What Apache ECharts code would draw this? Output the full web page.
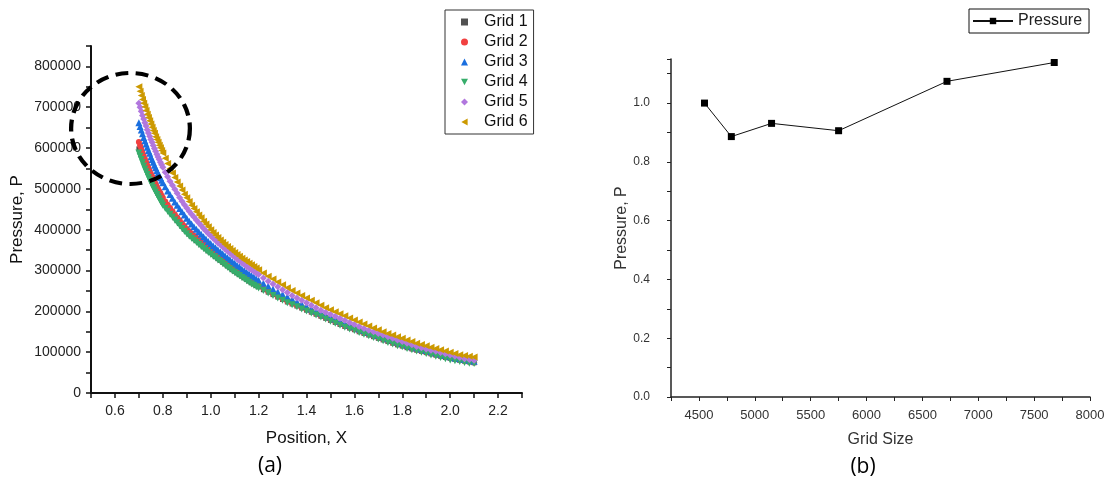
<!DOCTYPE html>
<html><head><meta charset="utf-8">
<script src="https://cdn.jsdelivr.net/npm/echarts@6/dist/echarts.min.js"></script>
<style>html,body{margin:0;padding:0;background:#fff}#c{width:1110px;height:481px}</style>
</head><body><div id="c"></div>
<script>
// ---- (a) Pressure vs position for six grids ----
const posX = [0.700,0.705,0.710,0.715,0.720,0.725,0.730,0.735,0.740,0.745,0.750,0.755,0.760,0.765,0.770,0.775,0.780,0.785,0.790,0.795,
  0.80,0.81,0.82,0.83,0.84,0.85,0.86,0.87,0.88,0.89,0.90,0.91,0.92,0.93,0.94,0.95,0.96,0.97,0.98,0.99,1.00,1.01,1.02,1.03,1.04,1.05,1.06,1.07,1.08,1.09,1.10,1.11,1.12,1.13,1.14,1.15,1.16,1.17,1.18,1.19,1.20,
  1.22,1.24,1.26,1.28,1.30,1.32,1.34,1.36,1.38,1.40,1.42,1.44,1.46,1.48,1.50,1.52,1.54,1.56,1.58,1.60,1.62,1.64,1.66,1.68,1.70,1.72,1.74,1.76,1.78,1.80,1.82,1.84,1.86,1.88,1.90,1.92,1.94,1.96,1.98,2.00,2.02,2.04,2.06,2.08,2.10];
const grid1 = [598000,590000,582000,574000,566000,559000,552000,545000,538000,531000,525000,518000,512000,506000,500000,495000,489000,484000,478000,473000,
  468000,460000,452000,444000,437000,429000,422000,415000,408000,401000,395000,389000,384000,378000,373000,368000,363000,358000,353000,348000,344000,339000,334000,329000,325000,320000,316000,311000,307000,302000,298000,294000,290000,286000,282000,278000,274000,270000,267000,263000,260000,
  253000,247000,241000,235000,229000,223000,218000,213000,208000,203000,198000,193000,188000,183000,178000,173000,168000,163000,159000,155000,150000,146000,142000,138000,134000,130000,126000,122000,118000,115000,111000,108000,105000,102000,99000,96000,93000,90000,87000,85000,82000,80000,78000,76000,74000];
const grid2 = [615000,606000,598000,589000,581000,573000,566000,558000,551000,544000,537000,531000,524000,518000,512000,506000,500000,494000,489000,483000,
  478000,469000,461000,453000,445000,437000,430000,423000,416000,409000,402000,396000,391000,385000,380000,375000,370000,365000,360000,355000,350000,345000,340000,335000,330000,325000,320000,315000,311000,306000,302000,298000,294000,290000,286000,282000,278000,274000,270000,266000,263000,
  256000,249000,243000,237000,231000,225000,220000,215000,210000,205000,200000,195000,190000,185000,180000,175000,170000,165000,161000,157000,152000,148000,144000,140000,136000,132000,128000,124000,120000,117000,113000,109000,106000,103000,100000,97000,94000,91000,88000,86000,83000,81000,79000,77000,75000];
const grid3 = [662000,653000,644000,635000,626000,618000,610000,602000,594000,587000,579000,572000,565000,558000,552000,545000,539000,533000,527000,521000,
  515000,505000,495000,486000,477000,468000,460000,452000,444000,436000,428000,421000,414000,407000,401000,395000,389000,383000,377000,371000,366000,361000,356000,351000,346000,341000,336000,331000,327000,322000,318000,313000,309000,304000,300000,296000,292000,288000,284000,280000,276000,
  269000,262000,255000,248000,242000,236000,230000,224000,218000,212000,206000,201000,196000,191000,186000,181000,176000,171000,166000,162000,157000,153000,149000,145000,141000,137000,133000,129000,125000,121000,117000,113000,110000,107000,104000,101000,98000,95000,92000,89000,86000,84000,82000,80000,78000];
const grid4 = [588000,580000,572000,564000,556000,549000,542000,535000,528000,522000,515000,509000,503000,497000,492000,486000,481000,476000,470000,465000,
  460000,452000,445000,438000,431000,424000,417000,410000,403000,396000,390000,384000,379000,374000,369000,364000,359000,354000,349000,344000,340000,335000,331000,326000,322000,317000,313000,308000,304000,299000,295000,291000,287000,283000,279000,275000,271000,267000,264000,260000,257000,
  251000,245000,239000,233000,227000,221000,216000,211000,206000,201000,196000,191000,186000,181000,176000,171000,166000,161000,157000,153000,148000,144000,140000,136000,132000,128000,124000,120000,116000,113000,109000,106000,103000,100000,97000,93000,90000,87000,84000,81000,79000,77000,75000,73000,72000];
const grid5 = [710000,700000,690000,680000,671000,662000,654000,645000,637000,629000,621000,614000,606000,599000,592000,585000,578000,572000,565000,559000,
  553000,541000,530000,519000,509000,499000,489000,479000,470000,461000,453000,445000,438000,431000,424000,417000,410000,403000,397000,391000,385000,379000,374000,368000,363000,358000,353000,348000,343000,338000,333000,328000,324000,319000,315000,310000,306000,302000,298000,294000,290000,
  282000,274000,267000,260000,253000,246000,239000,233000,227000,221000,215000,209000,203000,198000,193000,188000,183000,178000,173000,168000,163000,158000,154000,150000,146000,142000,138000,134000,130000,126000,122000,118000,114000,111000,108000,105000,102000,99000,96000,93000,90000,87000,84000,82000,80000];
const grid6 = [750000,739000,729000,719000,710000,701000,692000,683000,675000,667000,659000,651000,643000,636000,628000,621000,614000,607000,601000,594000,
  588000,575000,562000,550000,539000,528000,517000,507000,497000,487000,478000,469000,460000,452000,444000,436000,429000,421000,414000,407000,400000,393000,387000,381000,375000,369000,364000,359000,354000,349000,344000,339000,335000,330000,326000,322000,318000,314000,310000,306000,302000,
  294000,286000,279000,272000,265000,258000,251000,245000,239000,233000,227000,221000,215000,209000,204000,199000,194000,189000,184000,179000,174000,169000,164000,159000,155000,150000,146000,142000,138000,134000,130000,126000,122000,119000,116000,112000,109000,106000,103000,100000,97000,94000,92000,90000,88000];
const gridNames = ['Grid 1','Grid 2','Grid 3','Grid 4','Grid 5','Grid 6'];

// ---- (b) Pressure vs grid size ----
const gridSize = [4550, 4790, 5150, 5750, 6720, 7680];
const pressure = [1.0, 0.886, 0.931, 0.906, 1.074, 1.138];

const FONT = 'Arial, "Liberation Sans", sans-serif';
const isMult = (v, step) => Math.abs(v / step - Math.round(v / step)) < 1e-6;
const zip = (xs, ys) => xs.map((x, i) => [x, ys[i]]);

const styles = [
  {color:'#515151', symbol:'rect', size:5, rot:0, icon:'rect'},
  {color:'#F14040', symbol:'circle', size:6, rot:0, icon:'circle'},
  {color:'#1A6FDF', symbol:'triangle', size:7, rot:0, icon:'triangle'},
  {color:'#37AD6B', symbol:'triangle', size:7, rot:180, icon:'path://M0,0L10,0L5,9Z'},
  {color:'#B177DE', symbol:'diamond', size:7, rot:0, icon:'diamond'},
  {color:'#CC9900', symbol:'triangle', size:7, rot:90, icon:'path://M9,0L9,10L0,5Z'}
];
const leftData = [grid1, grid2, grid3, grid4, grid5, grid6];

const leftSeries = leftData.map((arr, i) => ({
  name: gridNames[i], type: 'scatter', xAxisIndex: 0, yAxisIndex: 0,
  data: zip(posX, arr), symbol: styles[i].symbol, symbolSize: styles[i].size,
  symbolRotate: styles[i].rot, itemStyle: {color: styles[i].color, opacity: 1},
  emphasis: {disabled: true}, animation: false
}));

const chart = echarts.init(document.getElementById('c'), null, {renderer: 'canvas'});
chart.setOption({
  animation: false,
  backgroundColor: '#fff',
  grid: [
    {left: 91, top: 46, width: 431, height: 347, outerBoundsMode: 'none', containLabel: false},
    {left: 671, top: 59, width: 419, height: 338, outerBoundsMode: 'none', containLabel: false}
  ],
  xAxis: [
    {type: 'value', gridIndex: 0, min: 0.5, max: 2.3, interval: 0.1,
     axisLine: {lineStyle: {color: '#111', width: 2}},
     axisTick: {length: 5, lineStyle: {color: '#111', width: 1.5}},
     splitLine: {show: false},
     axisLabel: {margin: 11, fontFamily: FONT, fontSize: 14, color: '#222',
       formatter: v => isMult(v, 0.2) ? v.toFixed(1) : ''},
     name: 'Position, X', nameLocation: 'middle', nameGap: 37,
     nameTextStyle: {fontFamily: FONT, fontSize: 17, color: '#111'}},
    {type: 'value', gridIndex: 1, min: 4250, max: 8000, interval: 250,
     axisLine: {lineStyle: {color: '#222', width: 1.5}},
     axisTick: {length: 4, lineStyle: {color: '#222', width: 1}},
     splitLine: {show: false},
     axisLabel: {margin: 12, fontFamily: FONT, fontSize: 13, color: '#333',
       formatter: v => isMult(v, 500) ? String(Math.round(v)) : ''},
     name: 'Grid Size', nameLocation: 'middle', nameGap: 35,
     nameTextStyle: {fontFamily: FONT, fontSize: 16, color: '#333'}}
  ],
  yAxis: [
    {type: 'value', gridIndex: 0, min: 0, max: 850000, interval: 50000,
     axisLine: {show: true, lineStyle: {color: '#111', width: 2}},
     axisTick: {show: true, length: 5, lineStyle: {color: '#111', width: 1.5}},
     splitLine: {show: false},
     axisLabel: {margin: 10, fontFamily: FONT, fontSize: 14, color: '#222',
       formatter: v => isMult(v, 100000) ? String(Math.round(v)) : ''},
     name: 'Pressure, P', nameLocation: 'middle', nameGap: 65,
     nameTextStyle: {fontFamily: FONT, fontSize: 17, color: '#111'}},
    {type: 'value', gridIndex: 1, min: 0, max: 1.15, interval: 0.1,
     axisLine: {show: true, lineStyle: {color: '#222', width: 1.5}},
     axisTick: {show: true, length: 4, lineStyle: {color: '#222', width: 1}},
     splitLine: {show: false},
     axisLabel: {margin: 21, fontFamily: FONT, fontSize: 12, color: '#333',
       formatter: v => isMult(v, 0.2) ? v.toFixed(1) : ''},
     name: 'Pressure, P', nameLocation: 'middle', nameGap: 36,
     nameTextStyle: {fontFamily: FONT, fontSize: 16, color: '#333'}}
  ],
  legend: [
    {data: gridNames.map((n, i) => ({name: n, icon: styles[i].icon})),
     orient: 'vertical', left: 445, top: 10,
     padding: [4, 6, 4, 16], itemGap: 4, itemWidth: 7, itemHeight: 7,
     borderColor: '#333', borderWidth: 1, backgroundColor: '#fff',
     textStyle: {fontFamily: FONT, fontSize: 16, lineHeight: 16, color: '#111', padding: [0, 0, 0, 11]},
     selectedMode: false},
    {data: ['Pressure'], orient: 'vertical', left: 969, top: 9,
     padding: [4, 7, 4, 3], itemWidth: 40, itemHeight: 8,
     borderColor: '#111', borderWidth: 1,
     textStyle: {fontFamily: FONT, fontSize: 16, lineHeight: 16, color: '#222'},
     selectedMode: false}
  ],
  series: leftSeries.concat([{
    name: 'Pressure', type: 'line', xAxisIndex: 1, yAxisIndex: 1,
    data: zip(gridSize, pressure), symbol: 'rect', symbolSize: 7, showSymbol: true,
    itemStyle: {color: '#000'}, lineStyle: {color: '#111', width: 1},
    emphasis: {disabled: true}
  }]),
  graphic: [
    {type: 'circle', x: 130.5, y: 128.5, scaleX: 1.07, z: 100,
     shape: {cx: 0, cy: 0, r: 55.5},
     style: {fill: null, stroke: '#000', lineWidth: 4, lineDash: [12, 7]}},
    {type: 'text', x: 270, y: 466, z: 100,
     style: {text: '(a)', fontFamily: '"Open Sans", "Noto Sans", sans-serif', fontSize: 21, fill: '#000', align: 'center', verticalAlign: 'middle'}},
    {type: 'text', x: 863, y: 467, z: 100,
     style: {text: '(b)', fontFamily: '"Open Sans", "Noto Sans", sans-serif', fontSize: 21, fill: '#000', align: 'center', verticalAlign: 'middle'}}
  ]
});
</script></body></html>
